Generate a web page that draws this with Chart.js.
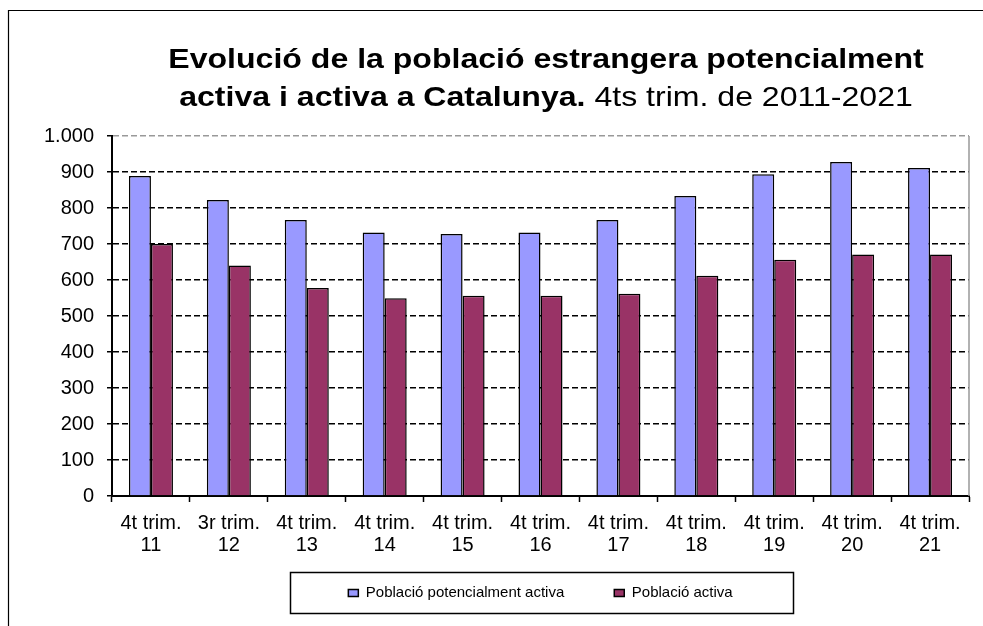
<!DOCTYPE html>
<html>
<head>
<meta charset="utf-8">
<title>Població estrangera activa a Catalunya</title>
<script src="https://cdn.jsdelivr.net/npm/chart.js@4.4.1/dist/chart.umd.min.js"></script>
<style>
  html, body { margin: 0; padding: 0; background: #fff; overflow: hidden; }
  #chart { display: block; }
</style>
</head>
<body>
<canvas id="chart" width="983" height="626"></canvas>
<script>
// --- data ---
const periodLabels = ["4t trim.", "3r trim.", "4t trim.", "4t trim.", "4t trim.", "4t trim.", "4t trim.", "4t trim.", "4t trim.", "4t trim.", "4t trim."];
const yearLabels = ["11", "12", "13", "14", "15", "16", "17", "18", "19", "20", "21"];
const potencialmentActiva = [889, 822, 767, 732, 728, 732, 767, 833, 894, 928, 911];
const activa = [700, 640, 578, 549, 556, 556, 562, 612, 656, 671, 671];
const yTicks = [0, 100, 200, 300, 400, 500, 600, 700, 800, 900, 1000];

const titleLine1 = "Evolució de la població estrangera potencialment";
const titleLine2Bold = "activa i activa a Catalunya.";
const titleLine2Normal = " 4ts trim. de 2011-2021";

const FONT = '"Liberation Sans", Arial, sans-serif';
Chart.defaults.font.family = FONT;
Chart.defaults.color = "#000";

// x labels on two lines
const labels = periodLabels.map((p, i) => [p, yearLabels[i]]);

// frame, plot border, legend box and the mixed bold/normal title
const decor = {
  id: "decor",
  afterLayout(chart) {
    // pull the legend up so it sits in its framed box under the axis labels
    const lg = chart.legend;
    lg.top -= 22.5;
    lg.bottom -= 22.5;
  },
  beforeDraw(chart) {
    const ctx = chart.ctx;
    ctx.save();
    ctx.fillStyle = "#fff";
    ctx.fillRect(0, 0, chart.width, chart.height);
    ctx.strokeStyle = "#000";
    ctx.lineWidth = 1.2;
    ctx.beginPath();
    ctx.moveTo(8.5, chart.height);
    ctx.lineTo(8.5, 10.5);
    ctx.lineTo(chart.width, 10.5);
    ctx.stroke();
    ctx.restore();
  },
  afterDatasetsDraw(chart) {
    const { ctx, chartArea } = chart;
    ctx.save();
    ctx.strokeStyle = "#999";
    ctx.lineWidth = 1.5;
    ctx.beginPath();
    ctx.moveTo(chartArea.right, chartArea.top);
    ctx.lineTo(chartArea.right, chartArea.bottom);
    ctx.stroke();
    ctx.restore();
  },
  afterDraw(chart) {
    const ctx = chart.ctx;
    // legend frame
    const boxes = chart.legend.legendHitBoxes;
    if (boxes && boxes.length) {
      const first = boxes[0], last = boxes[boxes.length - 1];
      const cx = (first.left + last.left + last.width) / 2;
      const cy = first.top + first.height / 2;
      ctx.save();
      ctx.strokeStyle = "#000";
      ctx.lineWidth = 1.5;
      ctx.strokeRect(Math.round(cx - 251) + 0.5, Math.round(cy - 21) + 0.5, 503, 41);
      ctx.restore();
    }
    // title
    ctx.save();
    ctx.fillStyle = "#000";
    ctx.textBaseline = "alphabetic";
    ctx.translate(546, 0);
    ctx.scale(1.145, 1);
    const bold = "bold 28px " + FONT;
    const normal = "28px " + FONT;
    ctx.font = bold;
    ctx.textAlign = "center";
    ctx.fillText(titleLine1, 0, 68);
    ctx.textAlign = "left";
    const w1 = ctx.measureText(titleLine2Bold).width;
    ctx.font = normal;
    const w2 = ctx.measureText(titleLine2Normal).width;
    const x0 = -(w1 + w2) / 2;
    ctx.font = bold;
    ctx.fillText(titleLine2Bold, x0, 106);
    ctx.font = normal;
    ctx.fillText(titleLine2Normal, x0 + w1, 106);
    ctx.restore();
  }
};

new Chart(document.getElementById("chart"), {
  type: "bar",
  data: {
    labels: labels,
    datasets: [
      {
        label: "Població potencialment activa",
        data: potencialmentActiva,
        backgroundColor: "#9999FF",
        borderColor: "#000",
        borderWidth: 1.5,
        categoryPercentage: 0.565,
        barPercentage: 1.0
      },
      {
        label: "Població activa",
        data: activa,
        backgroundColor: "#993366",
        borderColor: "#000",
        borderWidth: 1.5,
        categoryPercentage: 0.565,
        barPercentage: 1.0
      }
    ]
  },
  options: {
    responsive: false,
    animation: false,
    devicePixelRatio: 1,
    layout: { padding: { top: 136, right: 14, bottom: -7, left: 0 } },
    plugins: {
      title: { display: false },
      tooltip: { enabled: false },
      legend: {
        position: "bottom",
        fullSize: false,
        labels: {
          boxWidth: 10,
          boxHeight: 7,
          padding: 50,
          color: "#000",
          font: { size: 15 }
        }
      }
    },
    scales: {
      x: {
        afterFit: (scale) => { scale.height = 62; },
        ticks: {
          maxRotation: 0,
          autoSkip: false,
          padding: 10,
          font: { size: 20, lineHeight: 1.1 }
        },
        grid: {
          offset: true,
          drawOnChartArea: false,
          drawTicks: true,
          tickLength: 6,
          tickColor: "#000",
          tickWidth: 1.5,
          color: "#000"
        },
        border: { display: true, color: "#000", width: 2 }
      },
      y: {
        min: 0,
        max: 1000,
        afterFit: (scale) => { scale.width = 112; },
        afterBuildTicks: (scale) => { scale.ticks = yTicks.map(v => ({ value: v })); },
        ticks: {
          padding: 13,
          font: { size: 20 },
          callback: (v) => v >= 1000 ? Math.floor(v / 1000) + "." + String(v % 1000).padStart(3, "0") : String(v)
        },
        grid: {
          color: (c) => (c.tick && c.tick.value === 1000) ? "#999" : "#000",
          lineWidth: 1.5,
          drawTicks: true,
          tickLength: 5,
          tickColor: "#000",
          tickWidth: 1.5
        },
        border: { display: true, color: "#000", width: 2, dash: [6, 3] }
      }
    }
  },
  plugins: [decor]
});
</script>
</body>
</html>
